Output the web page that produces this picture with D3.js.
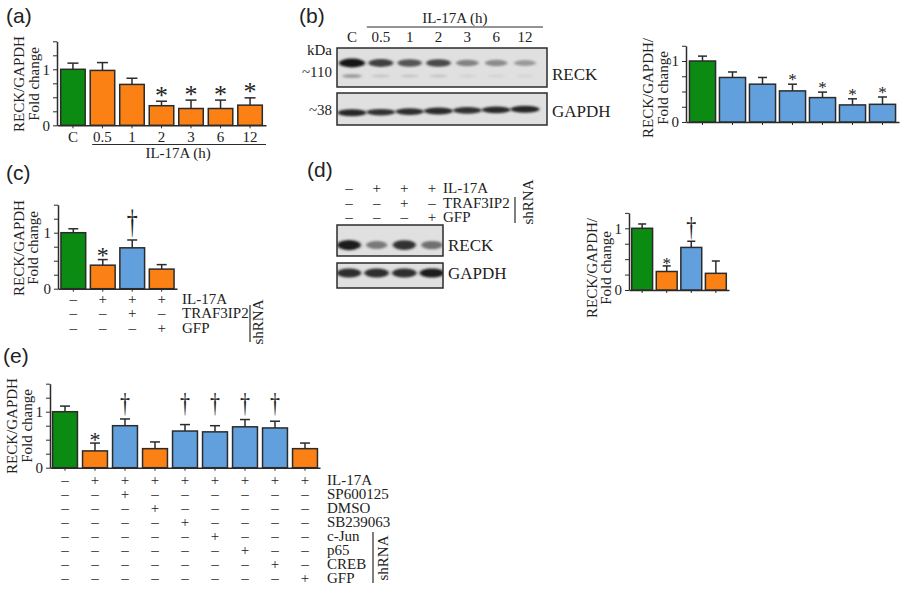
<!DOCTYPE html>
<html>
<head>
<meta charset="utf-8">
<script src="https://cdn.jsdelivr.net/npm/d3@7"></script>
<style>
body { margin: 0; background: #fff; }
svg text { font-family: "Liberation Serif", "Times New Roman", serif; fill: #222; }
svg text.plabel { font-family: "Liberation Sans", Arial, sans-serif; font-size: 21px; }
</style>
</head>
<body>
<svg id="fig" width="906" height="592"></svg>
<script>
// (a) RECK/GAPDH over IL-17A time course
const aCats = ['C', '0.5', '1', '2', '3', '6', '12'];
const aMean = [1.00, 0.98, 0.73, 0.35, 0.30, 0.30, 0.36];
const aErr = [0.11, 0.14, 0.11, 0.08, 0.15, 0.15, 0.13];
const aGroup = ['ctrl', 'il', 'il', 'il', 'il', 'il', 'il'];
const aMark = ['', '', '', '*', '*', '*', '*'];

// (b) blot + densitometry
const bCats = ['C', '0.5', '1', '2', '3', '6', '12'];
const bMean = [1.00, 0.73, 0.62, 0.51, 0.40, 0.28, 0.29];
const bErr = [0.08, 0.09, 0.11, 0.11, 0.09, 0.10, 0.12];
const bGroup = ['ctrl', 'block', 'block', 'block', 'block', 'block', 'block'];
const bMark = ['', '', '', '*', '*', '*', '*'];
const bReck = [1.0, 0.78, 0.68, 0.74, 0.45, 0.40, 0.33];
const bReckLow = [0.35, 0.12, 0.12, 0.12, 0.05, 0.05, 0.04];
const bGapdh = [0.92, 0.85, 0.88, 0.90, 0.86, 0.90, 0.92];

// (c) TRAF3IP2 knockdown
const cMean = [1.00, 0.42, 0.73, 0.35];
const cErr = [0.07, 0.10, 0.14, 0.08];
const cGroup = ['ctrl', 'il', 'block', 'il'];
const cMark = ['', '*', '†', ''];
const cRowLabels = ['IL-17A', 'TRAF3IP2', 'GFP'];
const cRowSigns = ['-+++', '--+-', '---+'];

// (d) blot + densitometry
const dMean = [1.00, 0.30, 0.69, 0.27];
const dErr = [0.07, 0.09, 0.10, 0.20];
const dGroup = ['ctrl', 'il', 'block', 'il'];
const dMark = ['', '*', '†', ''];
const dReck = [0.95, 0.50, 0.85, 0.55];
const dGapdh = [0.88, 0.88, 0.88, 0.95];
const dRowLabels = ['IL-17A', 'TRAF3IP2', 'GFP'];
const dRowSigns = ['-+++', '--+-', '---+'];

// (e) inhibitors / shRNA
const eMean = [1.00, 0.30, 0.75, 0.34, 0.655, 0.64, 0.73, 0.71, 0.34];
const eErr = [0.10, 0.14, 0.12, 0.12, 0.115, 0.11, 0.13, 0.12, 0.10];
const eGroup = ['ctrl', 'il', 'block', 'il', 'block', 'block', 'block', 'block', 'il'];
const eMark = ['', '*', '†', '', '†', '†', '†', '†', ''];
const eRowLabels = ['IL-17A', 'SP600125', 'DMSO', 'SB239063', 'c-Jun', 'p65', 'CREB', 'GFP'];
const eRowSigns = ['-++++++++', '--+------', '---+-----', '----+----', '-----+---', '------+--', '-------+-', '--------+'];

const colors = { ctrl: '#0b8b12', il: '#fb8114', block: '#62a0dd' };
const ink = '#2b2b2b';
const svg = d3.select('#fig');

svg.append('defs').append('filter').attr('id', 'blur')
  .attr('x', '-50%').attr('y', '-100%').attr('width', '200%').attr('height', '300%')
  .append('feGaussianBlur').attr('stdDeviation', '1.8 1.2');

function panelLabel(t, x, y) {
  svg.append('text').attr('class', 'plabel').attr('x', x).attr('y', y).text(t);
}

function barPanel(o) {
  const g = svg.append('g');
  const n = o.mean.length;
  const x = d3.scaleBand().domain(d3.range(n)).range([o.x0, o.x1]).paddingInner(o.pi).paddingOuter(o.po);
  const y = d3.scaleLinear().domain([0, o.top]).range([o.y0, o.y0 - o.top * o.ppu]);

  const yAxis = d3.axisLeft(y).tickValues(d3.range(0, o.top + 0.001, 0.25))
    .tickSize(4).tickSizeOuter(0)
    .tickFormat(d => (d === 0 || d === 1) ? d : '');
  const ya = g.append('g').attr('transform', 'translate(' + o.x0 + ',0)').call(yAxis);
  ya.select('.domain').attr('stroke', ink).attr('stroke-width', 1.5);
  ya.selectAll('.tick line').attr('stroke', ink).attr('stroke-width', 1);
  ya.selectAll('.tick text').attr('x', -7).style('font-size', '15px')
    .attr('font-family', null).attr('fill', '#222');
  ya.attr('font-family', null);

  const xAxis = d3.axisBottom(x).tickSize(3).tickSizeOuter(0).tickFormat('');
  const xa = g.append('g').attr('transform', 'translate(0,' + o.y0 + ')').call(xAxis);
  xa.select('.domain').attr('stroke', ink).attr('stroke-width', 1.5);
  xa.selectAll('.tick line').attr('stroke', ink).attr('stroke-width', 1);

  const rows = d3.range(n).map(i => ({ i: i, m: o.mean[i], e: o.err[i], grp: o.group[i], mark: o.mark[i] }));

  g.selectAll('.err').data(rows).join('line')
    .attr('x1', d => x(d.i) + x.bandwidth() / 2).attr('x2', d => x(d.i) + x.bandwidth() / 2)
    .attr('y1', d => y(d.m)).attr('y2', d => y(d.m + d.e))
    .attr('stroke', ink).attr('stroke-width', 1.5);
  g.selectAll('.cap').data(rows).join('line')
    .attr('x1', d => x(d.i) + x.bandwidth() / 2 - o.cap / 2).attr('x2', d => x(d.i) + x.bandwidth() / 2 + o.cap / 2)
    .attr('y1', d => y(d.m + d.e)).attr('y2', d => y(d.m + d.e))
    .attr('stroke', ink).attr('stroke-width', 1.5);

  g.selectAll('.bar').data(rows).join('rect')
    .attr('x', d => x(d.i)).attr('width', x.bandwidth())
    .attr('y', d => y(d.m)).attr('height', d => y(0) - y(d.m))
    .attr('fill', d => colors[d.grp]).attr('stroke', ink).attr('stroke-width', 1.5);

  // significance marks
  const stars = rows.filter(d => d.mark === '*');
  g.selectAll('.star').data(stars).join('text')
    .attr('x', d => x(d.i) + x.bandwidth() / 2)
    .attr('y', d => y(d.m + d.e) - o.starOff + 0.52 * o.starSize)
    .attr('text-anchor', 'middle').style('font-size', o.starSize + 'px').text('*');
  const dags = rows.filter(d => d.mark === '†');
  const dagBase = d3.min(dags, d => y(d.m + d.e));
  g.selectAll('.dag').data(dags).join('text')
    .attr('transform', d => 'translate(' + (x(d.i) + x.bandwidth() / 2) + ',' +
      ((o.dagShared ? dagBase : y(d.m + d.e)) - o.dagOff) + ') scale(1,' + o.dagScale + ')')
    .attr('text-anchor', 'middle').attr('y', -0.16 * o.dagSize)
    .style('font-size', o.dagSize + 'px').attr('fill', '#1e1e1e').text('†');

  // y label, two lines
  const lab = g.append('text')
    .attr('transform', 'translate(' + o.lx + ',' + o.ly + ') rotate(-90)')
    .attr('text-anchor', 'middle').style('font-size', '15px');
  lab.append('tspan').attr('x', 0).attr('dy', 0).text(o.ylab[0]);
  lab.append('tspan').attr('x', 0).attr('dy', o.lgap).text(o.ylab[1]);
  return x;
}

function signRows(o) {
  const g = svg.append('g').style('font-size', '15px');
  o.labels.forEach((lab, r) => {
    const yy = o.y + r * o.dy;
    g.selectAll(null).data(o.signs[r].split('')).join('text')
      .attr('x', (s, i) => o.cx(i)).attr('y', yy)
      .attr('text-anchor', 'middle')
      .text(s => s === '+' ? '+' : '\u2013');
    g.append('text').attr('x', o.lx).attr('y', yy).text(lab);
  });
  g.append('line').attr('x1', o.bx).attr('x2', o.bx).attr('y1', o.by1).attr('y2', o.by2)
    .attr('stroke', ink).attr('stroke-width', 1.2);
  g.append('text').attr('transform', 'translate(' + o.sx + ',' + o.sy + ') rotate(-90)')
    .attr('text-anchor', 'middle').text('shRNA');
}

const shade = d3.scaleLinear().domain([0, 1]).range(['#dcdcdc', '#151515']);
let clipN = 0;
function blot(o) {
  const id = 'clip' + (clipN++);
  svg.append('clipPath').attr('id', id).append('rect')
    .attr('x', o.x).attr('y', o.y).attr('width', o.w).attr('height', o.h);
  const g = svg.append('g');
  g.append('rect').attr('x', o.x).attr('y', o.y).attr('width', o.w).attr('height', o.h).attr('fill', '#e0e0e0');
  const bg = g.append('g').attr('clip-path', 'url(#' + id + ')');
  o.layers.forEach(L => {
    bg.selectAll(null).data(L.vals).join('ellipse')
      .attr('cx', (d, i) => o.lane(i)).attr('cy', (d, i) => L.cy + (L.tilt ? L.tilt * (i - 3) : 0))
      .attr('rx', d => L.rx * (0.8 + 0.25 * d)).attr('ry', d => L.ry * (0.55 + 0.5 * d))
      .attr('fill', d => shade(d)).attr('filter', 'url(#blur)');
  });
  g.append('rect').attr('x', o.x).attr('y', o.y).attr('width', o.w).attr('height', o.h)
    .attr('fill', 'none').attr('stroke', ink).attr('stroke-width', 1.5);
  g.append('text').attr('x', o.x + o.w + 5).attr('y', o.labY).style('font-size', '17px').text(o.label);
}

// ---- (a)
panelLabel('(a)', 6, 23);
const ax = barPanel({ mean: aMean, err: aErr, group: aGroup, mark: aMark,
  x0: 57, x1: 266, y0: 125.3, ppu: 56, top: 1.5, pi: 0.17, po: 0.125, cap: 11,
  starSize: 26, starOff: 11, lx: 24, ly: 84, lgap: 14.5, ylab: ['RECK/GAPDH', 'Fold change'] });
svg.append('g').style('font-size', '15px').selectAll('text').data(aCats).join('text')
  .attr('x', (d, i) => ax(i) + ax.bandwidth() / 2).attr('y', 141.5)
  .attr('text-anchor', 'middle').text(d => d);
svg.append('line').attr('x1', ax(1) + 2).attr('x2', 266).attr('y1', 144.5).attr('y2', 144.5)
  .attr('stroke', ink).attr('stroke-width', 1.2);
svg.append('text').attr('x', (ax(1) + 266) / 2).attr('y', 157.5).attr('text-anchor', 'middle')
  .style('font-size', '15px').text('IL-17A (h)');

// ---- (b)
panelLabel('(b)', 299, 23);
const bLane = d3.scalePoint().domain(d3.range(bCats.length)).range([352, 525]);
svg.append('g').style('font-size', '15px').selectAll('text').data(bCats).join('text')
  .attr('x', (d, i) => bLane(i)).attr('y', 42).attr('text-anchor', 'middle').text(d => d);
svg.append('line').attr('x1', bLane(1) - 14).attr('x2', 543).attr('y1', 27).attr('y2', 27)
  .attr('stroke', ink).attr('stroke-width', 1.2);
svg.append('text').attr('x', (bLane(1) - 14 + 543) / 2).attr('y', 23).attr('text-anchor', 'middle')
  .style('font-size', '15px').text('IL-17A (h)');
svg.append('text').attr('x', 332).attr('y', 55).attr('text-anchor', 'end').style('font-size', '15px').text('kDa');
svg.append('text').attr('x', 332).attr('y', 77).attr('text-anchor', 'end').style('font-size', '15px').text('~110');
svg.append('text').attr('x', 332).attr('y', 115).attr('text-anchor', 'end').style('font-size', '15px').text('~38');
blot({ x: 337, y: 48, w: 210, h: 39, lane: bLane, label: 'RECK', labY: 80,
  layers: [{ vals: bReck, cy: 63, rx: 12.5, ry: 4.2 }, { vals: bReckLow, cy: 76, rx: 11, ry: 2.5 }] });
blot({ x: 337, y: 93, w: 210, h: 32, lane: bLane, label: 'GAPDH', labY: 117,
  layers: [{ vals: bGapdh, cy: 111, rx: 14, ry: 3.4, tilt: -0.6 }] });
barPanel({ mean: bMean, err: bErr, group: bGroup, mark: bMark,
  x0: 686, x1: 899, y0: 122, ppu: 61, top: 1.25, pi: 0.13, po: 0.115, cap: 9,
  starSize: 17, starOff: 8, lx: 653, ly: 88, lgap: 15, ylab: ['RECK/GAPDH/', 'Fold change'] });

// ---- (c)
panelLabel('(c)', 6, 180);
const cx = barPanel({ mean: cMean, err: cErr, group: cGroup, mark: cMark,
  x0: 58, x1: 177, y0: 288.7, ppu: 56, top: 1.5, pi: 0.16, po: 0.1, cap: 10,
  starSize: 24, starOff: 9, dagSize: 22, dagScale: 1.5, dagOff: 2,
  lx: 23.5, ly: 248, lgap: 14.5, ylab: ['RECK/GAPDH', 'Fold change'] });
signRows({ labels: cRowLabels, signs: cRowSigns, cx: i => cx(i) + cx.bandwidth() / 2,
  y: 303.5, dy: 14.7, lx: 182, bx: 250, by1: 305, by2: 342, sx: 263, sy: 322 });

// ---- (d)
panelLabel('(d)', 307, 177);
const dLane = d3.scalePoint().domain(d3.range(dReck.length)).range([349, 432]);
signRows({ labels: dRowLabels, signs: dRowSigns, cx: i => dLane(i),
  y: 193, dy: 14.5, lx: 443, bx: 515, by1: 197, by2: 223, sx: 533, sy: 202 });
blot({ x: 337, y: 225, w: 106, h: 31, lane: dLane, label: 'RECK', labY: 251,
  layers: [{ vals: dReck, cy: 245, rx: 11.5, ry: 5 }] });
blot({ x: 337, y: 263, w: 106, h: 25, lane: dLane, label: 'GAPDH', labY: 279,
  layers: [{ vals: dGapdh, cy: 273, rx: 12, ry: 4.5 }] });
barPanel({ mean: dMean, err: dErr, group: dGroup, mark: dMark,
  x0: 629, x1: 729, y0: 290, ppu: 61.7, top: 1.25, pi: 0.15, po: 0.11, cap: 8,
  starSize: 17, starOff: 6, dagSize: 20, dagScale: 1.4, dagOff: 1,
  lx: 597, ly: 268, lgap: 14, ylab: ['RECK/GAPDH/', 'Fold change'] });

// ---- (e)
panelLabel('(e)', 3, 363);
const ex = barPanel({ mean: eMean, err: eErr, group: eGroup, mark: eMark,
  x0: 50, x1: 320, y0: 467.7, ppu: 56, top: 1.5, pi: 0.17, po: 0.085, cap: 10,
  starSize: 22, starOff: 8, dagSize: 20, dagScale: 1.4, dagOff: 3, dagShared: true,
  lx: 17, ly: 426, lgap: 15, ylab: ['RECK/GAPDH', 'Fold change'] });
signRows({ labels: eRowLabels, signs: eRowSigns, cx: i => ex(i) + ex.bandwidth() / 2,
  y: 485, dy: 14, lx: 327, bx: 373, by1: 532, by2: 583, sx: 388, sy: 558 });
</script>
</body>
</html>
